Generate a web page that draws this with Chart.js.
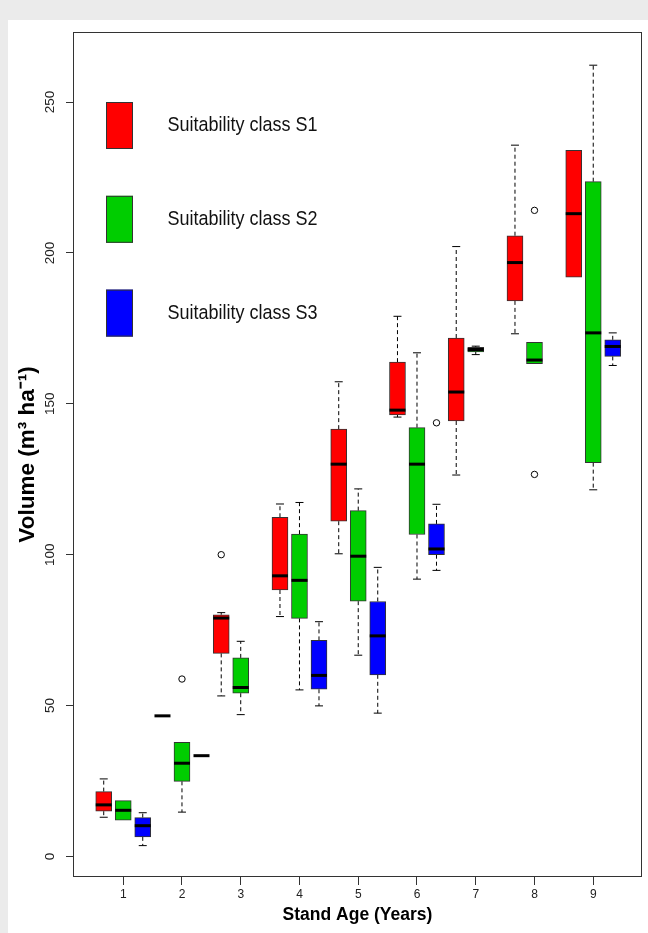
<!DOCTYPE html>
<html>
<head>
<meta charset="utf-8">
<script src="https://cdn.jsdelivr.net/npm/chart.js@4.4.1/dist/chart.umd.min.js"></script>
<style>
html,body{margin:0;padding:0;background:#ebebeb;width:648px;height:933px;overflow:hidden;}
#panel{position:absolute;left:8px;top:20px;width:640px;height:913px;background:#fff;}
#c{position:absolute;left:0;top:0;}
</style>
</head>
<body>
<div id="panel"></div>
<canvas id="c" width="648" height="933"></canvas>
<script>
// ---------- DATA ----------
const ages = [1, 2, 3, 4, 5, 6, 7, 8, 9];
const xTickValues = [1, 2, 3, 4, 5, 6, 7, 8, 9];
const yTickValues = [0, 50, 100, 150, 200, 250];
const classNames = ['Suitability class S1', 'Suitability class S2', 'Suitability class S3'];

// Suitability class S1 (red)
const s1Low  = [13.0, null, 53.2, 79.5, 100.3, 145.6, 126.4, 173.2, 192.0];
const s1Q1   = [15.0, null, 67.3, 88.3, 111.1, 146.3, 144.3, 184.1, 192.0];
const s1Med  = [17.1, 46.6, 79.0, 93.0, 130.0, 147.9, 153.9, 196.8, 213.0];
const s1Q3   = [21.5, null, 80.1, 112.4, 141.6, 163.8, 171.8, 205.7, 234.0];
const s1High = [25.7, null, 80.8, 116.8, 157.3, 179.0, 202.1, 235.7, 234.0];
const s1Out  = [[], [], [100.0], [], [], [], [], [], []];

// Suitability class S2 (green)
const s2Low  = [12.0, 14.7, 47.0, 55.2, 66.7, 91.9, 166.3, 163.3, 121.5];
const s2Q1   = [12.0, 24.9, 54.1, 78.9, 84.6, 106.7, 167.2, 163.3, 130.5];
const s2Med  = [15.3, 30.9, 56.0, 91.5, 99.5, 130.0, 168.0, 164.5, 173.5];
const s2Q3   = [18.5, 37.8, 65.8, 106.8, 114.6, 142.1, 168.7, 170.4, 223.6];
const s2High = [18.5, 37.8, 71.3, 117.3, 121.8, 166.9, 169.1, 170.4, 262.2];
const s2Out  = [[], [58.8], [], [], [], [], [], [214.1, 126.6], []];

// Suitability class S3 (blue)
const s3Low  = [3.6, null, null, 49.9, 47.5, 94.8, null, null, 162.7];
const s3Q1   = [6.5, null, null, 55.4, 60.2, 100.0, null, null, 165.7];
const s3Med  = [10.2, 33.4, null, 60.0, 73.1, 101.9, null, null, 169.0];
const s3Q3   = [12.9, null, null, 71.6, 84.5, 110.2, null, null, 171.2];
const s3High = [14.5, null, null, 77.8, 95.8, 116.7, null, null, 173.5];
const s3Out  = [[], [], [], [], [], [143.7], [], [], []];

// ---------- STYLE / LAYOUT ----------
const classColors = ['#ff0000', '#00cd00', '#0000ff'];
const groupOffsets = [-0.332, 0, 0.332];
const FONT = "'Liberation Sans', Arial, Helvetica, sans-serif";

const lows = [s1Low, s2Low, s3Low];
const q1s = [s1Q1, s2Q1, s3Q1];
const meds = [s1Med, s2Med, s3Med];
const q3s = [s1Q3, s2Q3, s3Q3];
const highs = [s1High, s2High, s3High];
const outs = [s1Out, s2Out, s3Out];

// box datasets (floating bars Q1..Q3)
const boxDatasets = classNames.map((name, k) => ({
  type: 'bar',
  label: name,
  backgroundColor: classColors[k],
  borderColor: '#333',
  borderWidth: 1,
  borderSkipped: false,
  barThickness: 16,
  grouped: false,
  order: 2,
  data: ages.map((a, i) => q1s[k][i] == null ? null : { x: a + groupOffsets[k], y: [q1s[k][i], q3s[k][i]] }).filter(d => d)
}));

// whiskers, caps, medians, outliers
const whiskerPts = [], capPts = [], medianPts = [], outlierPts = [];
classNames.forEach((n, k) => {
  ages.forEach((a, i) => {
    const x = a + groupOffsets[k];
    if (highs[k][i] != null && highs[k][i] > q3s[k][i]) {
      whiskerPts.push({ x, y: q3s[k][i] }, { x, y: highs[k][i] }, { x, y: null });
      capPts.push({ x, y: highs[k][i] });
    }
    if (lows[k][i] != null && lows[k][i] < q1s[k][i]) {
      whiskerPts.push({ x, y: q1s[k][i] }, { x, y: lows[k][i] }, { x, y: null });
      capPts.push({ x, y: lows[k][i] });
    }
    if (meds[k][i] != null) medianPts.push({ x, y: meds[k][i] });
    outs[k][i].forEach(v => outlierPts.push({ x, y: v }));
  });
});

const framePlugin = {
  id: 'frame',
  beforeDatasetsDraw(chart) {
    const a = chart.chartArea, ctx = chart.ctx;
    ctx.save();
    ctx.strokeStyle = '#333';
    ctx.lineWidth = 1;
    ctx.strokeRect(a.left + 0.5, a.top + 0.5, a.right - a.left - 1, a.bottom - a.top - 1);
    ctx.restore();
  }
};

const LEGEND = { left: 33, firstTop: 70, step: 93.8, boxW: 27, boxH: 47, textLeft: 94.5 };
const legendPlugin = {
  id: 'boxLegend',
  afterDraw(chart) {
    const ctx = chart.ctx, a = chart.chartArea;
    const boxes = chart.data.datasets.filter(d => d.type === 'bar');
    ctx.save();
    boxes.forEach((d, k) => {
      const top = a.top + LEGEND.firstTop + k * LEGEND.step;
      const left = a.left + LEGEND.left;
      ctx.fillStyle = d.backgroundColor;
      ctx.fillRect(left, top, LEGEND.boxW, LEGEND.boxH);
      ctx.strokeStyle = '#333';
      ctx.lineWidth = 1;
      ctx.strokeRect(left + 0.5, top + 0.5, LEGEND.boxW - 1, LEGEND.boxH - 1);
      ctx.save();
      ctx.translate(a.left + LEGEND.textLeft, top + LEGEND.boxH / 2);
      ctx.scale(1, 1.15);
      ctx.font = '18px ' + FONT;
      ctx.fillStyle = '#111';
      ctx.textBaseline = 'middle';
      ctx.textAlign = 'left';
      ctx.fillText(d.label, 0, 0);
      ctx.restore();
    });
    ctx.restore();
  }
};

Chart.defaults.font.family = FONT;

new Chart(document.getElementById('c'), {
  type: 'bar',
  data: {
    datasets: [
      ...boxDatasets,
      {
        type: 'line', label: 'whiskers', data: whiskerPts, order: 3,
        borderColor: '#000', borderWidth: 1, borderDash: [4, 3],
        pointRadius: 0, pointHoverRadius: 0, fill: false, spanGaps: false, tension: 0
      },
      {
        type: 'scatter', label: 'caps', data: capPts, order: 3,
        pointStyle: 'line', pointRadius: 4, pointHoverRadius: 4,
        pointBorderWidth: 1, pointBorderColor: '#000', pointBackgroundColor: '#000'
      },
      {
        type: 'scatter', label: 'medians', data: medianPts, order: 0,
        pointStyle: 'line', pointRadius: 8, pointHoverRadius: 8,
        pointBorderWidth: 3, pointBorderColor: '#000', pointBackgroundColor: '#000'
      },
      {
        type: 'scatter', label: 'outliers', data: outlierPts, order: 0,
        pointStyle: 'circle', pointRadius: 3.2, pointHoverRadius: 3.2,
        pointBorderWidth: 1, pointBorderColor: '#000', pointBackgroundColor: 'rgba(0,0,0,0)'
      }
    ]
  },
  options: {
    responsive: false,
    animation: false,
    events: [],
    layout: { autoPadding: false, padding: { left: 0, top: 32, right: 6, bottom: 0 } },
    plugins: { legend: { display: false }, tooltip: { enabled: false } },
    scales: {
      x: {
        type: 'linear',
        min: 0.145, max: 9.83,
        offset: false,
        afterBuildTicks: s => { s.ticks = xTickValues.map(v => ({ value: v })); },
        afterFit: s => { s.height = 56; s.paddingLeft = 0; s.paddingRight = 0; },
        grid: { offset: false, drawOnChartArea: false, drawTicks: true, tickLength: 8, color: '#333', lineWidth: 1 },
        border: { display: false },
        ticks: { font: { size: 12 }, color: '#222', padding: 2, maxRotation: 0, autoSkip: false },
        title: {
          display: true, text: 'Stand Age (Years)', color: '#000',
          font: { size: 17.5, weight: 'bold' }, padding: { top: 0, bottom: 7 }
        }
      },
      y: {
        type: 'linear',
        min: -6.8, max: 273.2,
        afterBuildTicks: s => { s.ticks = yTickValues.map(v => ({ value: v })); },
        afterFit: s => { s.width = 73; s.paddingTop = 0; s.paddingBottom = 0; },
        grid: { drawOnChartArea: false, drawTicks: true, tickLength: 7, color: '#333', lineWidth: 1 },
        border: { display: false },
        ticks: { font: { size: 13.5 }, color: '#222', padding: 4, minRotation: 90, maxRotation: 90, crossAlign: 'center', autoSkip: false },
        title: {
          display: true, text: 'Volume (m³ ha⁻¹)', color: '#000',
          font: { size: 22.5, weight: 'bold' }, padding: { top: 14, bottom: 0 }
        }
      }
    }
  },
  plugins: [framePlugin, legendPlugin]
});
</script>
</body>
</html>
